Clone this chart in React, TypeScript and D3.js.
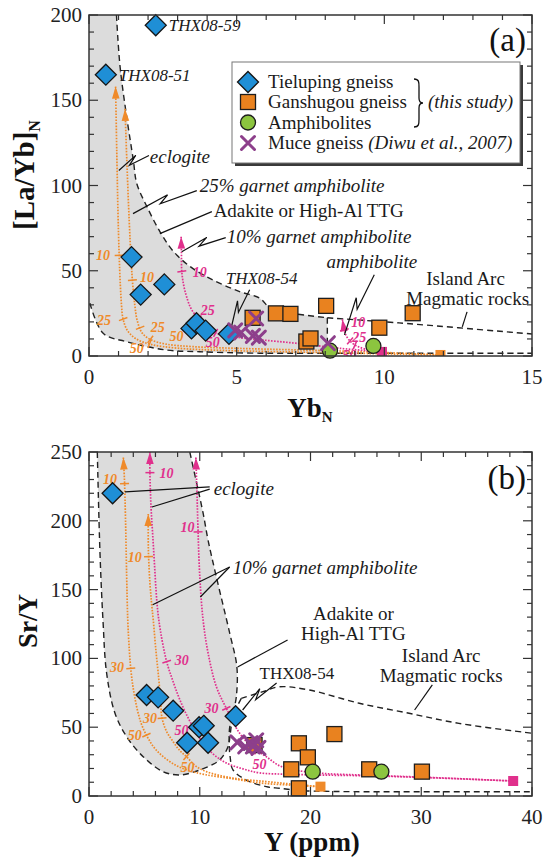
import React from "react";
import * as d3 from "d3";

type P = [number, number];

const FONT = '"Liberation Serif", "DejaVu Serif", serif';
const ORANGE = "#ef8a2a";
const MAGENTA = "#e0308c";
const BLUE = "#1f8fd6";
const SQ = "#e9821f";
const GREEN = "#8cc53f";
const PURPLE = "#8d3f8b";
const GRAY = "#dcdcdc";

// ---------- panel (a): [La/Yb]N vs YbN ----------
const tielupingA: P[] = [[2.26, 194], [0.57, 165], [1.44, 58], [1.75, 36], [2.55, 42], [3.47, 16.2], [3.64, 19.2], [3.95, 14.9], [4.74, 13]];
const ganshugouA: P[] = [[5.54, 22.4], [6.33, 25], [6.82, 24.7], [8.03, 29.4], [7.36, 8.5], [7.5, 10.3], [9.83, 16.6], [10.96, 25.1]];
const amphiboliteA: P[] = [[8.16, 3.1], [9.63, 5.9]];
const muceA: P[] = [[4.95, 15], [5.15, 13.8], [5.55, 11.8], [5.75, 10.8], [5.66, 22], [8.09, 7.5]];

// field boundaries
const adakiteUpperA: P[] = [[0.93, 200], [1.05, 170], [1.27, 141], [1.5, 115], [1.62, 101], [1.95, 88], [2.4, 73], [2.85, 61.5], [3.5, 51.5], [4.3, 43.7], [5.1, 37.8], [5.78, 33.9], [6.1, 28.5], [6.5, 25.5], [7.0, 24.6], [8.07, 22.4]];
const arcUpperA: P[] = [[8.07, 22.4], [10.5, 19.4], [15, 12.9]];
const lowerA: P[] = [[0.03, 31], [0.48, 13.3], [1.27, 8.4], [2.62, 3.5], [3.75, 2.5], [5.5, 1.7], [8.07, 1.6], [15, 1.6]];
const dividerA: P[] = [[8.07, 22.4], [8.07, 0]];

// melting trends
const eclogiteA1: P[] = [[0.9, 158], [0.94, 120], [0.98, 85], [1.02, 60], [1.06, 42], [1.1, 30], [1.15, 22], [1.3, 15], [1.6, 10], [2.1, 6.8], [3, 4.6], [4.5, 3.3], [6.5, 2.5], [9, 1.6], [11.9, 0.6]];
const eclogiteA2: P[] = [[1.22, 145], [1.28, 115], [1.36, 80], [1.43, 55], [1.48, 42], [1.55, 30], [1.63, 21], [1.8, 13.5], [2.1, 9.5], [2.6, 7], [3.5, 5.5], [5, 4.5], [7, 3.6], [9.5, 2.4], [11.9, 0.6]];
const garnetAmphA: P[] = [[3.12, 70], [3.13, 60], [3.14, 50], [3.2, 42], [3.3, 35], [3.45, 28], [3.69, 22], [3.95, 16.5], [4.35, 13], [5, 11], [5.8, 9.5], [7, 7.5], [8.5, 4.5], [9.9, 2.4]];
const amphMeltA: P[] = [[8.58, 21.5], [8.62, 17], [8.68, 13], [8.8, 9.5], [9.0, 6.5], [9.3, 4.3], [9.6, 3.1], [9.9, 2.4]];
const sourceOrangeA: P = [11.9, 0.6];
const sourceMagentaA: P = [9.92, 2.4];

// ---------- panel (b): Sr/Y vs Y ----------
const tielupingB: P[] = [[2.13, 220], [5.2, 73.4], [6.24, 71.7], [7.6, 62], [9.94, 50], [10.36, 51], [8.86, 38.7], [10.75, 38.7], [13.24, 58]];
const ganshugouB: P[] = [[18.26, 19.4], [18.95, 38.3], [19.76, 28.1], [22.16, 45], [18.95, 5.6], [25.3, 19.4], [30.06, 17.7], [14.95, 37]];
const amphiboliteB: P[] = [[20.2, 17.7], [26.4, 17.7]];
const muceB: P[] = [[13.4, 39], [14.1, 36], [14.6, 38.5], [15.1, 40.5], [15.3, 35], [14.8, 36]];

const adakiteB: P[] = [[0.75, 250], [0.99, 177], [1.26, 128], [1.59, 89.4], [2.34, 60.3], [3.4, 43.1], [4.89, 28.6], [6.69, 17.7], [8.2, 15.3], [10.0, 18.9], [11.8, 26.2], [12.55, 35.8], [12.75, 45], [12.95, 58], [13.3, 72], [13.35, 94], [12.7, 118.5], [11.5, 159.2], [10.75, 186], [10.3, 205.7], [9.1, 250]];
const arcTopB: P[] = [[13.75, 71], [15.7, 75.8], [17.2, 79.4], [19.9, 77], [24.4, 67.4], [28.9, 60.1], [33.4, 52.8], [40, 45.6]];
const arcBottomB: P[] = [[13.75, 71], [13.2, 62], [12.75, 52], [12.65, 40], [12.75, 28], [13.0, 19], [14.2, 11.6], [16, 6.8], [17.2, 5.6], [19, 4], [22, 3.3], [40, 3.1]];

const eclogiteB1: P[] = [[3.1, 246], [3.2, 230], [3.3, 200], [3.4, 160], [3.5, 128], [3.65, 105], [3.8, 90], [4.0, 78], [4.3, 65], [4.7, 53], [5.2, 44], [5.9, 35], [6.7, 28.6], [7.8, 22.5], [8.8, 19], [10.5, 15.5], [13, 12.5], [15.4, 9.5], [18, 8], [20.9, 6.8]];
const eclogiteB2: P[] = [[5.35, 205], [5.35, 185], [5.38, 174], [5.5, 155], [5.65, 140], [5.8, 128], [6.05, 105], [6.3, 85], [6.45, 70], [6.6, 56.5], [7.0, 47], [7.6, 39.5], [8.2, 33], [8.8, 28.6], [9.6, 22], [10.6, 17.7], [13, 13], [16, 10.5], [18.5, 8.5], [20.9, 6.8]];
const garnetAmphB1: P[] = [[5.5, 250], [5.5, 235], [5.6, 210], [5.75, 190], [5.9, 170], [6.05, 150], [6.2, 135], [6.45, 120], [7.0, 98], [7.6, 83], [8.2, 70], [9.0, 56], [10, 42], [11, 32], [12.4, 24], [14, 19.5], [15.4, 16.8], [18, 15.8], [21, 15.2], [24.4, 14.8], [30.4, 13.4], [38.3, 10.9]];
const garnetAmphB2: P[] = [[9.65, 246], [9.75, 220], [9.85, 192], [10.0, 160], [10.3, 128], [10.75, 104], [11.5, 79.4], [12.4, 63.7], [13.6, 45.6], [14.8, 35], [16, 28.6], [17.2, 22], [18.5, 19], [21, 16.5], [24.4, 15.3], [30.4, 13.6], [38.3, 10.9]];
const sourceOrangeB: P = [20.9, 6.8];
const sourceMagentaB: P = [38.3, 10.9];

type Tick = { at: P; label: string; lab: P };
const ticksEclA1: Tick[] = [{ at: [1.02, 59], label: "10", lab: [0.47, 59.4] }, { at: [1.13, 21.5], label: "25", lab: [0.51, 21.2] }, { at: [2.06, 7.6], label: "50", lab: [1.62, 4.4] }];
const ticksEclA2: Tick[] = [{ at: [1.45, 44.5], label: "10", lab: [1.96, 46.5] }, { at: [1.72, 16.5], label: "25", lab: [2.33, 17.2] }, { at: [2.06, 9.4], label: "50", lab: [2.96, 11.4] }];
const ticksGrtA: Tick[] = [{ at: [3.14, 49.6], label: "10", lab: [3.75, 49.4] }, { at: [3.69, 22.2], label: "25", lab: [4.02, 27] }, { at: [4.31, 14.3], label: "50", lab: [4.19, 8.2] }];
const ticksAmpA: Tick[] = [{ at: [8.65, 15.3], label: "10", lab: [9.12, 20] }, { at: [8.82, 8.5], label: "25", lab: [9.15, 11] }, { at: [9.0, 6.2], label: "50", lab: [8.82, 0.8] }];
const ticksEclB1: Tick[] = [{ at: [3.22, 227], label: "10", lab: [1.89, 230.6] }, { at: [3.78, 92.8], label: "30", lab: [2.52, 93.8] }, { at: [5.2, 44.3], label: "50", lab: [4.14, 44.3] }];
const ticksEclB2: Tick[] = [{ at: [5.38, 174], label: "10", lab: [4.14, 173.9] }, { at: [6.55, 56.5], label: "30", lab: [5.5, 56.7] }, { at: [8.8, 28.6], label: "50", lab: [8.9, 21] }];
const ticksGrtB1: Tick[] = [{ at: [5.5, 235], label: "10", lab: [7.0, 234.5] }, { at: [7.0, 97.6], label: "30", lab: [8.38, 98.8] }, { at: [9.3, 50], label: "50", lab: [8.35, 48] }];
const ticksGrtB2: Tick[] = [{ at: [9.85, 192], label: "10", lab: [8.9, 195.5] }, { at: [12.4, 63.7], label: "30", lab: [11.05, 63.7] }, { at: [15, 31], label: "50", lab: [15.4, 23.5] }];

// ---------- helpers ----------
type Scale = d3.ScaleLinear<number, number>;

const smooth = (x: Scale, y: Scale) =>
  d3.line<P>().x((d) => x(d[0])).y((d) => y(d[1])).curve(d3.curveCatmullRom.alpha(0.5));

function snap(pts: P[], q: P) {
  let best = { d: Infinity, x: 0, y: 0, dx: 0, dy: 1 };
  for (let i = 0; i < pts.length - 1; i++) {
    const [x1, y1] = pts[i];
    const [x2, y2] = pts[i + 1];
    const vx = x2 - x1, vy = y2 - y1;
    const l2 = vx * vx + vy * vy || 1;
    let t = ((q[0] - x1) * vx + (q[1] - y1) * vy) / l2;
    t = Math.max(0, Math.min(1, t));
    const px = x1 + t * vx, py = y1 + t * vy;
    const d = (px - q[0]) ** 2 + (py - q[1]) ** 2;
    if (d < best.d) {
      const l = Math.sqrt(l2);
      best = { d, x: px, y: py, dx: vx / l, dy: vy / l };
    }
  }
  return best;
}

const diamondPath = (cx: number, cy: number, r = 10.5) => `M${cx},${cy - r}L${cx + r},${cy}L${cx},${cy + r}L${cx - r},${cy}Z`;

function Diamond({ cx, cy }: { cx: number; cy: number }) {
  return <path d={diamondPath(cx, cy)} fill={BLUE} stroke="#151515" strokeWidth={1.3} />;
}
function Square({ cx, cy }: { cx: number; cy: number }) {
  return <rect x={cx - 7.5} y={cy - 7.5} width={15} height={15} fill={SQ} stroke="#1e1e1e" strokeWidth={1.3} />;
}
function Circle({ cx, cy }: { cx: number; cy: number }) {
  return <circle cx={cx} cy={cy} r={7.5} fill={GREEN} stroke="#1e1e1e" strokeWidth={1.3} />;
}
function Cross({ cx, cy }: { cx: number; cy: number }) {
  const s = 6.5;
  return <path d={`M${cx - s},${cy - s}L${cx + s},${cy + s}M${cx - s},${cy + s}L${cx + s},${cy - s}`} stroke={PURPLE} strokeWidth={3} strokeLinecap="round" fill="none" />;
}

function MeltCurve({ x, y, pts, color, ticks, arrow }: { x: Scale; y: Scale; pts: P[]; color: string; ticks: Tick[]; arrow: boolean }) {
  const px: P[] = pts.map((d) => [x(d[0]), y(d[1])]);
  let head = null;
  if (arrow) {
    const [tx, ty] = px[0];
    const [bx, by] = px[1];
    const l = Math.hypot(tx - bx, ty - by) || 1;
    const ux = (tx - bx) / l, uy = (ty - by) / l;
    const nx = -uy, ny = ux;
    const bl = 12, hw = 3.8;
    const c: P = [tx - ux * bl, ty - uy * bl];
    head = <path d={`M${tx},${ty}L${c[0] + nx * hw},${c[1] + ny * hw}L${c[0] - nx * hw},${c[1] - ny * hw}Z`} fill={color} />;
  }
  return (
    <g>
      <path d={smooth(x, y)(pts) || ""} fill="none" stroke={color} strokeWidth={1.7} strokeDasharray="1.6 1.4" />
      {head}
      {ticks.map((t, i) => {
        const s = snap(px, [x(t.at[0]), y(t.at[1])]);
        const nx = -s.dy, ny = s.dx, h = 4.5;
        return (
          <g key={i}>
            <line x1={s.x - nx * h} y1={s.y - ny * h} x2={s.x + nx * h} y2={s.y + ny * h} stroke={color} strokeWidth={1.5} />
            <text x={x(t.lab[0])} y={y(t.lab[1])} dy="0.35em" textAnchor="middle" fontSize={14} fontStyle="italic" fontWeight="bold" fill={color}>{t.label}</text>
          </g>
        );
      })}
    </g>
  );
}

function Leader({ a, b, zig }: { a: P; b: P; zig?: boolean }) {
  let d = `M${a[0]},${a[1]}L${b[0]},${b[1]}`;
  if (zig) {
    const dx = b[0] - a[0], dy = b[1] - a[1];
    const l = Math.hypot(dx, dy);
    const ux = dx / l, uy = dy / l, nx = -uy, ny = ux;
    const mx = a[0] + dx * 0.5, my = a[1] + dy * 0.5;
    const s = 5, w = 6;
    d = `M${a[0]},${a[1]}L${mx + ux * s},${my + uy * s}L${mx - ux * s + nx * w},${my - uy * s + ny * w}L${b[0]},${b[1]}`;
  }
  return <path d={d} fill="none" stroke="#111" strokeWidth={1.2} />;
}

function Axes({ x, y, xMinor, xMajor, yMinor, yMajor }: { x: Scale; y: Scale; xMinor: number; xMajor: number; yMinor: number; yMajor: number }) {
  const [x0, x1] = x.range();
  const [yb, yt] = y.range();
  const [dx0, dx1] = x.domain();
  const [dy0, dy1] = y.domain();
  const xs = d3.range(dx0, dx1 + 1e-9, xMinor);
  const ys = d3.range(dy0, dy1 + 1e-9, yMinor);
  const isMaj = (v: number, m: number) => Math.abs(v / m - Math.round(v / m)) < 1e-6;
  const stroke = "#333";
  return (
    <g>
      {xs.map((v, i) => {
        const len = isMaj(v, xMajor) ? 9 : 5;
        const px = x(v);
        return (
          <g key={"x" + i}>
            <line x1={px} y1={yb} x2={px} y2={yb - len} stroke={stroke} strokeWidth={1.2} />
            <line x1={px} y1={yt} x2={px} y2={yt + len} stroke={stroke} strokeWidth={1.2} />
            {isMaj(v, xMajor) && (
              <text x={px} y={yb + 28} textAnchor="middle" fontSize={21} fill="#222">{v}</text>
            )}
          </g>
        );
      })}
      {ys.map((v, i) => {
        const len = isMaj(v, yMajor) ? 9 : 5;
        const py = y(v);
        return (
          <g key={"y" + i}>
            <line x1={x0} y1={py} x2={x0 + len} y2={py} stroke={stroke} strokeWidth={1.2} />
            <line x1={x1} y1={py} x2={x1 - len} y2={py} stroke={stroke} strokeWidth={1.2} />
            {isMaj(v, yMajor) && (
              <text x={x0 - 7} y={py + 7} textAnchor="end" fontSize={21} fill="#222">{v}</text>
            )}
          </g>
        );
      })}
      <rect x={x0} y={yt} width={x1 - x0} height={yb - yt} fill="none" stroke={stroke} strokeWidth={1.5} />
    </g>
  );
}

function Label({ x, y, at, text, italic, size = 19, anchor = "start" }: { x: Scale; y: Scale; at: P; text: string; italic?: boolean; size?: number; anchor?: string }) {
  return (
    <text x={x(at[0])} y={y(at[1])} dy="0.35em" fontSize={size} fontStyle={italic ? "italic" : "normal"} textAnchor={anchor as any} fill="#1a1a1a">{text}</text>
  );
}

function Points({ x, y, tie, gan, amph, muce }: { x: Scale; y: Scale; tie: P[]; gan: P[]; amph: P[]; muce: P[] }) {
  return (
    <g>
      {tie.map((d, i) => <Diamond key={"t" + i} cx={x(d[0])} cy={y(d[1])} />)}
      {gan.map((d, i) => <Square key={"g" + i} cx={x(d[0])} cy={y(d[1])} />)}
      {amph.map((d, i) => <Circle key={"a" + i} cx={x(d[0])} cy={y(d[1])} />)}
      {muce.map((d, i) => <Cross key={"m" + i} cx={x(d[0])} cy={y(d[1])} />)}
    </g>
  );
}

function Legend() {
  const x0 = 232, y0 = 62, w = 288, h = 101;
  const rows = [82, 102, 122.5, 143];
  const sx = 248, tx = 268;
  const bx = 414, bt = 79, bb = 127, bm = (bt + bb) / 2;
  const brace = `M${bx},${bt} C${bx + 5},${bt} ${bx + 5},${bt + 3} ${bx + 5},${bt + 8} L${bx + 5},${bm - 5} C${bx + 5},${bm - 1} ${bx + 7},${bm} ${bx + 9},${bm} C${bx + 7},${bm} ${bx + 5},${bm + 1} ${bx + 5},${bm + 5} L${bx + 5},${bb - 8} C${bx + 5},${bb - 3} ${bx + 5},${bb} ${bx},${bb}`;
  return (
    <g>
      <rect x={x0 + 3} y={y0 + 3} width={w} height={h} fill="#3a3a3a" />
      <rect x={x0} y={y0} width={w} height={h} fill="#fff" stroke="#777" strokeWidth={1} />
      <Diamond cx={sx} cy={rows[0]} />
      <Square cx={sx} cy={rows[1]} />
      <Circle cx={sx} cy={rows[2]} />
      <Cross cx={sx} cy={rows[3]} />
      <g fontSize={19} fill="#1a1a1a">
        <text x={tx} y={rows[0]} dy="0.33em">Tieluping gneiss</text>
        <text x={tx} y={rows[1]} dy="0.33em">Ganshugou gneiss</text>
        <text x={tx} y={rows[2]} dy="0.33em">Amphibolites</text>
        <text x={tx} y={rows[3]} dy="0.33em">Muce gneiss <tspan fontStyle="italic">(Diwu et al., 2007)</tspan></text>
        <text x={428} y={rows[1]} dy="0.33em" fontStyle="italic">(this study)</text>
      </g>
      <path d={brace} fill="none" stroke="#111" strokeWidth={1.3} />
    </g>
  );
}

function PanelA() {
  const x = d3.scaleLinear().domain([0, 15]).range([89, 532]);
  const y = d3.scaleLinear().domain([0, 200]).range([356, 15]);
  const line = smooth(x, y);
  const dash = { fill: "none", stroke: "#222", strokeWidth: 1.4, strokeDasharray: "6 4" };
  const lowerLeft = lowerA.filter((d) => d[0] <= 8.07).slice().reverse();
  const fill = `M${x(0)},${y(200)}` + (line(adakiteUpperA) || "").replace(/^M/, "L") + (line(lowerLeft) || "").replace(/^M/, "L") + "Z";
  const src = (p: P, c: string) => <rect x={x(p[0]) - 5} y={y(p[1]) - 5} width={10} height={10} fill={c} />;
  return (
    <g>
      <defs>
        <clipPath id="clipA"><rect x={89} y={15} width={443} height={341} /></clipPath>
      </defs>
      <g clipPath="url(#clipA)">
        <path d={fill} fill={GRAY} />
        <path d={line(adakiteUpperA) || ""} {...dash} />
        <path d={line(arcUpperA) || ""} {...dash} />
        <path d={line(lowerA) || ""} {...dash} />
        <path d={line(dividerA) || ""} {...dash} />
        <MeltCurve x={x} y={y} pts={eclogiteA1} color={ORANGE} ticks={ticksEclA1} arrow />
        <MeltCurve x={x} y={y} pts={eclogiteA2} color={ORANGE} ticks={ticksEclA2} arrow />
        <MeltCurve x={x} y={y} pts={garnetAmphA} color={MAGENTA} ticks={ticksGrtA} arrow />
        <MeltCurve x={x} y={y} pts={amphMeltA} color={MAGENTA} ticks={ticksAmpA} arrow />
        {src(sourceOrangeA, ORANGE)}
        {src(sourceMagentaA, MAGENTA)}
      </g>
      <Leader a={[x(2.03), y(117.6)]} b={[x(1.01), y(108.8)]} zig />
      <Leader a={[x(3.65), y(97)]} b={[x(1.49), y(83.5)]} zig />
      <Leader a={[x(4.16), y(84.7)]} b={[x(2.4), y(71.8)]} />
      <Leader a={[x(4.63), y(69.4)]} b={[x(3.14), y(61.2)]} zig />
      <Leader a={[x(5.44), y(38.8)]} b={[x(4.83), y(17.6)]} zig />
      <Leader a={[x(9.66), y(47.6)]} b={[x(8.65), y(12.4)]} zig />
      <Leader a={[x(12.8), y(25.9)]} b={[x(12.64), y(17.1)]} />
      <Label x={x} y={y} at={[2.7, 194]} text="THX08-59" italic size={17} />
      <Label x={x} y={y} at={[1.01, 165]} text="THX08-51" italic size={17} />
      <Label x={x} y={y} at={[2.06, 117]} text="eclogite" italic />
      <Label x={x} y={y} at={[3.75, 100]} text="25% garnet amphibolite" italic />
      <Label x={x} y={y} at={[4.22, 85.3]} text="Adakite or High-Al TTG" />
      <Label x={x} y={y} at={[4.66, 70]} text="10% garnet amphibolite" italic />
      <Label x={x} y={y} at={[4.63, 45.9]} text="THX08-54" italic size={17} />
      <Label x={x} y={y} at={[8.04, 55.3]} text="amphibolite" italic />
      <Label x={x} y={y} at={[11.42, 45.3]} text="Island Arc" />
      <Label x={x} y={y} at={[10.74, 34.1]} text="Magmatic rocks" />
      <Points x={x} y={y} tie={tielupingA} gan={ganshugouA} amph={amphiboliteA} muce={muceA} />
      <Axes x={x} y={y} xMinor={1} xMajor={5} yMinor={10} yMajor={50} />
      <text x={526} y={51} textAnchor="end" fontSize={33} fill="#111">(a)</text>
      <Legend />
      <text x={310} y={417} textAnchor="middle" fontSize={27} fontWeight="bold" fill="#111">
        Yb<tspan fontSize={15} dy={5}>N</tspan>
      </text>
      <text transform="translate(34,175) rotate(-90)" textAnchor="middle" fontSize={29} fontWeight="bold" fill="#111">
        [La/Yb]<tspan fontSize={16} dy={6}>N</tspan>
      </text>
    </g>
  );
}

function PanelB() {
  const x = d3.scaleLinear().domain([0, 40]).range([89, 532]);
  const y = d3.scaleLinear().domain([0, 250]).range([796, 452]);
  const line = smooth(x, y);
  const dash = { fill: "none", stroke: "#222", strokeWidth: 1.4, strokeDasharray: "6 4" };
  const src = (p: P, c: string) => <rect x={x(p[0]) - 5} y={y(p[1]) - 5} width={10} height={10} fill={c} />;
  return (
    <g>
      <defs>
        <clipPath id="clipB"><rect x={89} y={452} width={443} height={344} /></clipPath>
      </defs>
      <g clipPath="url(#clipB)">
        <path d={(line(adakiteB) || "") + "Z"} fill={GRAY} stroke="none" />
        <path d={line(adakiteB) || ""} {...dash} />
        <path d={line(arcTopB) || ""} {...dash} />
        <path d={line(arcBottomB) || ""} {...dash} />
        <MeltCurve x={x} y={y} pts={eclogiteB1} color={ORANGE} ticks={ticksEclB1} arrow />
        <MeltCurve x={x} y={y} pts={eclogiteB2} color={ORANGE} ticks={ticksEclB2} arrow />
        <MeltCurve x={x} y={y} pts={garnetAmphB1} color={MAGENTA} ticks={ticksGrtB1} arrow />
        <MeltCurve x={x} y={y} pts={garnetAmphB2} color={MAGENTA} ticks={ticksGrtB2} arrow />
        {src(sourceOrangeB, ORANGE)}
        {src(sourceMagentaB, MAGENTA)}
      </g>
      <Leader a={[x(10.9), y(224.6)]} b={[x(3.24), y(221)]} />
      <Leader a={[x(10.9), y(223)]} b={[x(5.68), y(210)]} />
      <Leader a={[x(12.7), y(166.4)]} b={[x(5.75), y(139)]} />
      <Leader a={[x(12.7), y(166.4)]} b={[x(10.05), y(144.6)]} />
      <Leader a={[x(17.93), y(113.4)]} b={[x(13.42), y(93.75)]} />
      <Leader a={[x(16.94), y(82.1)]} b={[x(13.87), y(62.5)]} zig />
      <Leader a={[x(31), y(80.7)]} b={[x(29.4), y(62.5)]} />
      <Label x={x} y={y} at={[11.26, 223.8]} text="eclogite" italic />
      <Label x={x} y={y} at={[12.97, 166.4]} text="10% garnet amphibolite" italic />
      <Label x={x} y={y} at={[23.87, 133]} text="Adakite or" anchor="middle" />
      <Label x={x} y={y} at={[23.87, 118.5]} text="High-Al TTG" anchor="middle" />
      <Label x={x} y={y} at={[15.4, 89.4]} text="THX08-54" size={17} />
      <Label x={x} y={y} at={[31.8, 102.5]} text="Island Arc" anchor="middle" />
      <Label x={x} y={y} at={[31.8, 87.9]} text="Magmatic rocks" anchor="middle" />
      <Points x={x} y={y} tie={tielupingB} gan={ganshugouB} amph={amphiboliteB} muce={muceB} />
      <Axes x={x} y={y} xMinor={2} xMajor={10} yMinor={10} yMajor={50} />
      <text x={526} y={489} textAnchor="end" fontSize={33} fill="#111">(b)</text>
      <text x={312} y={851} textAnchor="middle" fontSize={27} fontWeight="bold" fill="#111">Y (ppm)</text>
      <text transform="translate(37,621) rotate(-90)" textAnchor="middle" fontSize={27} fontWeight="bold" fill="#111">Sr/Y</text>
    </g>
  );
}

export default function App() {
  return (
    <div style={{ position: "absolute", left: 0, top: 0 }}>
      <svg width={547} height={862} style={{ display: "block", background: "#fff", fontFamily: FONT }}>
        <style>{`text { font-family: ${FONT}; }`}</style>
        <PanelA />
        <PanelB />
      </svg>
    </div>
  );
}
